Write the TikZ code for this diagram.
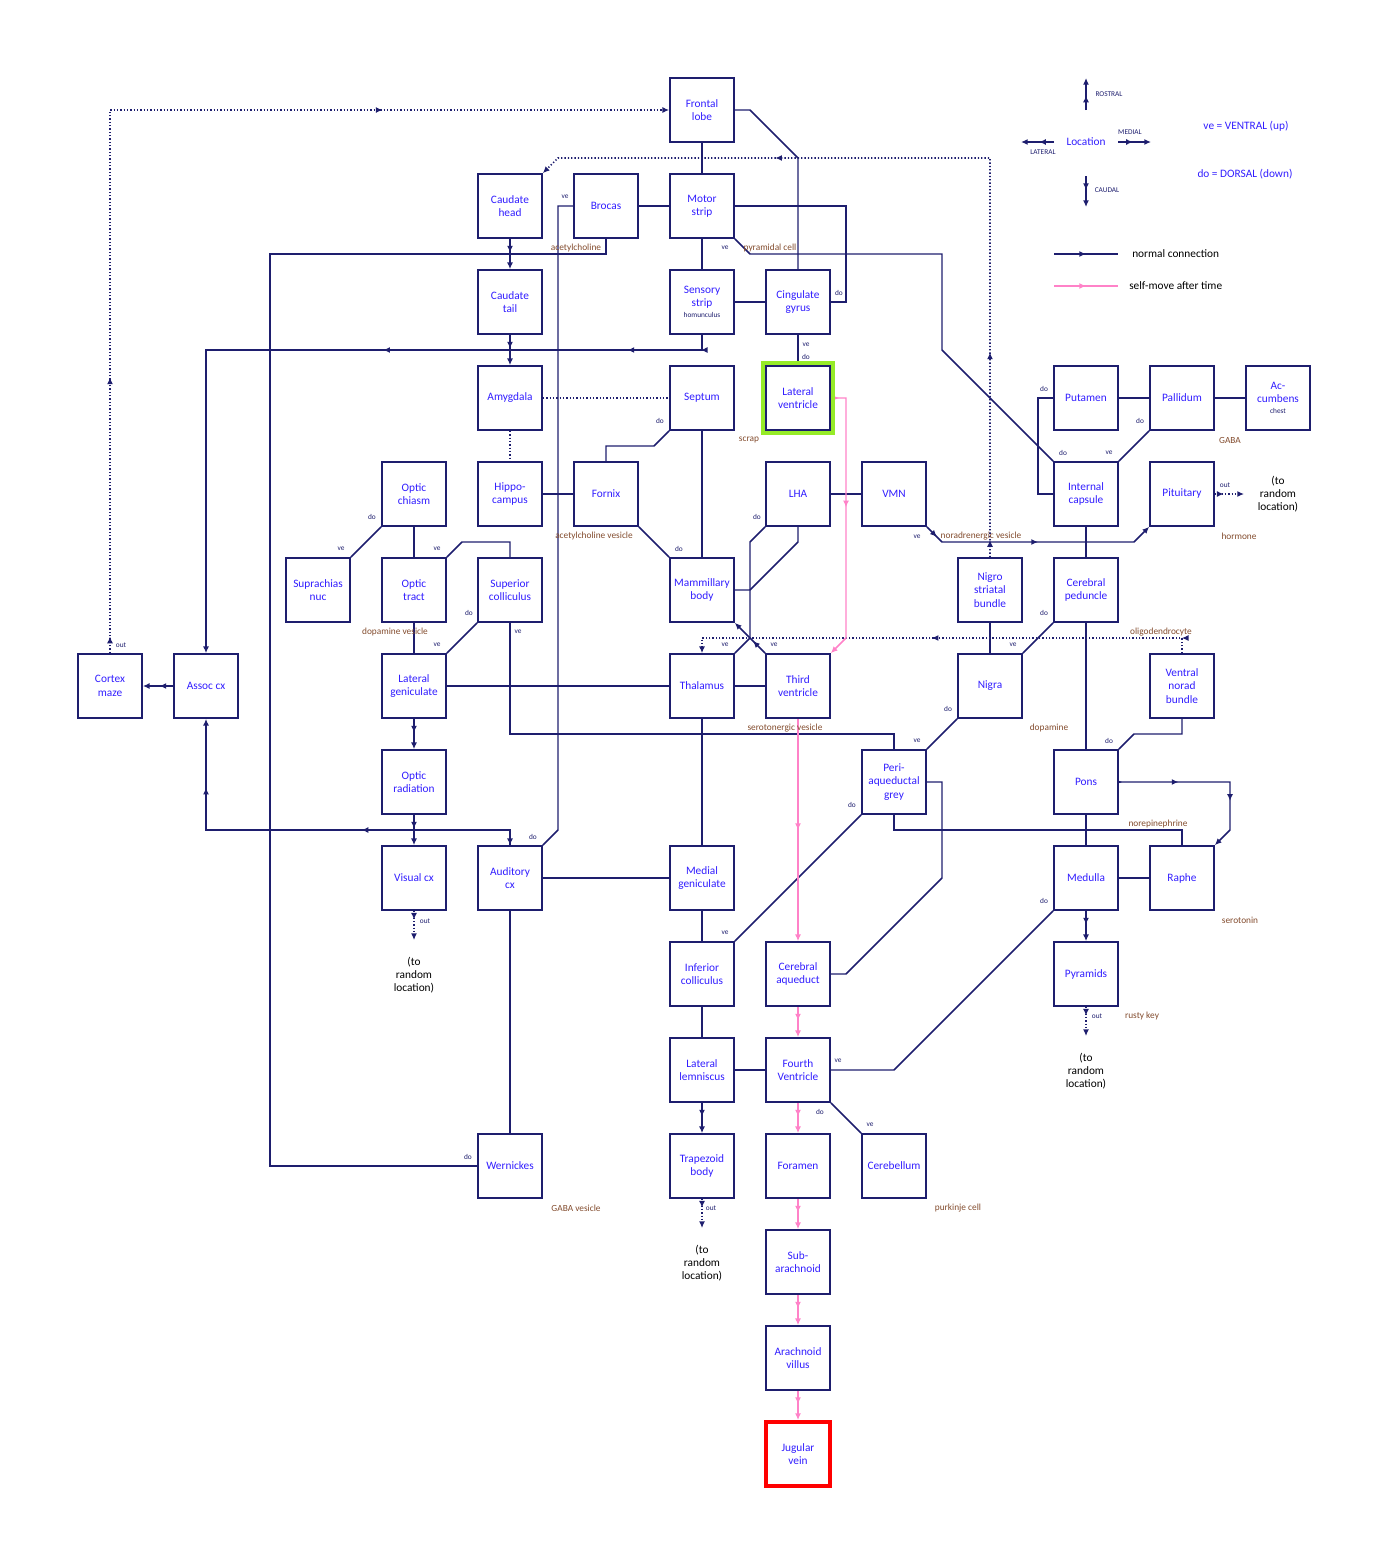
\documentclass[tikz,border=0pt]{standalone}
\usepackage{fontspec}
\setmainfont{Carlito}
\usetikzlibrary{arrows.meta,decorations.markings,backgrounds}
\definecolor{nv}{RGB}{30,30,110}
\definecolor{tb}{RGB}{50,30,255}
\definecolor{br}{RGB}{130,75,45}
\definecolor{pk}{RGB}{255,130,200}
\definecolor{gr}{RGB}{150,235,40}
\tikzset{
 box/.style={draw=nv,line width=1.3pt,fill=white,minimum width=48pt,minimum height=48pt,inner sep=1pt,align=center,text=tb,font=\fontsize{8.5}{10}\selectfont},
 ln/.style={draw=nv,line width=1.1pt},
 pl/.style={draw=pk,line width=1.1pt},
 dt/.style={draw=nv,line width=1.3pt,dash pattern=on 1pt off 1.5pt},
 mid/.style={postaction={decorate,decoration={markings,mark=at position #1 with {\arrow{Latex[length=5pt,width=4.5pt]}}}}},
 tip/.style={-{Latex[length=5pt,width=4.5pt]}},
 sm/.style={text=nv,font=\fontsize{5.5}{6}\selectfont,inner sep=0pt},
 bl/.style={text=br,font=\fontsize{7}{8}\selectfont,inner sep=0pt},
 rl/.style={text=black,align=center,font=\fontsize{8.5}{10}\selectfont,inner sep=0pt},
}
\begin{document}
\begin{tikzpicture}[x=0.75pt,y=-0.75pt]
\useasboundingbox (0,0) rectangle (1388,1564);
% nodes
\node[box] (fl) at (702,110) {Frontal\\lobe};
\node[box] (ch) at (510,206) {Caudate\\head};
\node[box] (br) at (606,206) {Brocas};
\node[box] (ms) at (702,206) {Motor\\strip};
\node[box] (ct) at (510,302) {Caudate\\tail};
\node[box] (ss) at (702,302) {Sensory\\strip\\[-2pt]{\fontsize{5.5}{6}\selectfont\color{nv}homunculus}};
\node[box] (cg) at (798,302) {Cingulate\\gyrus};
\node[box] (amy) at (510,398) {Amygdala};
\node[box] (sep) at (702,398) {Septum};
\node[box,draw=gr,line width=3pt,minimum width=52pt,minimum height=52pt] (lvo) at (798,398) {};
\node[box] (lv) at (798,398) {Lateral\\ventricle};
\node[box] (put) at (1086,398) {Putamen};
\node[box] (pal) at (1182,398) {Pallidum};
\node[box] (acc) at (1278,398) {Ac-\\cumbens\\[-2pt]{\fontsize{5.5}{6}\selectfont\color{nv}chest}};
\node[box] (oc) at (414,494) {Optic\\chiasm};
\node[box] (hip) at (510,494) {Hippo-\\campus};
\node[box] (fx) at (606,494) {Fornix};
\node[box] (lha) at (798,494) {LHA};
\node[box] (vmn) at (894,494) {VMN};
\node[box] (ic) at (1086,494) {Internal\\capsule};
\node[box] (pit) at (1182,494) {Pituitary};
\node[box] (sn) at (318,590) {Suprachias\\nuc};
\node[box] (ot) at (414,590) {Optic\\tract};
\node[box] (sc) at (510,590) {Superior\\colliculus};
\node[box] (mb) at (702,590) {Mammillary\\body};
\node[box] (nsb) at (990,590) {Nigro\\striatal\\bundle};
\node[box] (cp) at (1086,590) {Cerebral\\peduncle};
\node[box] (cm) at (110,686) {Cortex\\maze};
\node[box] (ac) at (206,686) {Assoc cx};
\node[box] (lg) at (414,686) {Lateral\\geniculate};
\node[box] (th) at (702,686) {Thalamus};
\node[box] (tv) at (798,686) {Third\\ventricle};
\node[box] (ni) at (990,686) {Nigra};
\node[box] (vnb) at (1182,686) {Ventral\\norad\\bundle};
\node[box] (or) at (414,782) {Optic\\radiation};
\node[box] (pag) at (894,782) {Peri-\\aqueductal\\grey};
\node[box] (pons) at (1086,782) {Pons};
\node[box] (vc) at (414,878) {Visual cx};
\node[box] (aud) at (510,878) {Auditory\\cx};
\node[box] (mg) at (702,878) {Medial\\geniculate};
\node[box] (med) at (1086,878) {Medulla};
\node[box] (ra) at (1182,878) {Raphe};
\node[box] (icl) at (702,974) {Inferior\\colliculus};
\node[box] (ca) at (798,974) {Cerebral\\aqueduct};
\node[box] (pyr) at (1086,974) {Pyramids};
\node[box] (ll) at (702,1070) {Lateral\\lemniscus};
\node[box] (fv) at (798,1070) {Fourth\\Ventricle};
\node[box] (wer) at (510,1166) {Wernickes};
\node[box] (trb) at (702,1166) {Trapezoid\\body};
\node[box] (fo) at (798,1166) {Foramen};
\node[box] (cb) at (894,1166) {Cerebellum};
\node[box] (sub) at (798,1262) {Sub-\\arachnoid};
\node[box] (arv) at (798,1358) {Arachnoid\\villus};
\node[box,draw=red,line width=3pt] (jv) at (798,1454) {Jugular\\vein};
% random location texts
\node[rl] (r1) at (414,975) {(to\\random\\location)};
\node[rl] (r2) at (1278,494) {(to\\random\\location)};
\node[rl] (r3) at (1086,1071) {(to\\random\\location)};
\node[rl] (r4) at (702,1263) {(to\\random\\location)};
\coordinate (e1) at (414,940);
\coordinate (e2) at (1244,494);
\coordinate (e3) at (1086,1036);
\coordinate (e4) at (702,1228);
% small labels
\foreach \x/\y/\t [count=\i] in {565/197/ve,725/248/ve,839/293/do,806/345/ve,806/357/do,660/421/do,372/517/do,341/549/ve,437/549/ve,679/549/do,757/517/do,469/613/do,518/632/ve,437/645/ve,725/645/ve,774/645/ve,917/537/ve,1044/389/do,1140/421/do,1063/453/do,1109/453/ve,1044/613/do,1013/645/ve,948/709/do,917/741/ve,852/805/do,1109/741/do,533/837/do,725/933/ve,1044/901/do,838/1061/ve,820/1112/do,870/1125/ve,468/1157/do,121/645/out,425/921/out,1225/485/out,1097/1016/out,711/1208/out}
  \node[sm] (s\i) at (\x,\y) {\t};
% brown labels
\foreach \x/\y/\t [count=\i] in {576/248/acetylcholine,770/248/pyramidal cell,749/440/scrap,594/536/acetylcholine vesicle,395/632/dopamine vesicle,785/728/serotonergic vesicle,981/536/noradrenergic vesicle,1230/440/GABA,1239/536/hormone,1161/632/oligodendrocyte,1049/728/dopamine,1158/824/norepinephrine,1240/920/serotonin,1142/1016/rusty key,576/1208/GABA vesicle,958/1208/purkinje cell}
  \node[bl] (b\i) at (\x,\y) {\t};
% legend
\node[text=tb,font=\fontsize{8.5}{10}\selectfont,inner sep=1pt] (loc) at (1086,142) {Location};
\node[sm] (lr) at (1109,94) {ROSTRAL};
\node[sm] (lc) at (1107,190) {CAUDAL};
\node[sm] (lla) at (1043,152) {LATERAL};
\node[sm] (lme) at (1130,132) {MEDIAL};
\node[text=tb,font=\fontsize{8.5}{10}\selectfont,inner sep=0pt] (vv) at (1246,126) {ve = VENTRAL (up)};
\node[text=tb,font=\fontsize{8.5}{10}\selectfont,inner sep=0pt] (dd) at (1245,174) {do = DORSAL (down)};
\node[rl,anchor=west] (nc) at (1132,254) {normal connection};
\node[rl,anchor=west] (sm2) at (1129,286) {self-move after time};
\coordinate (g1) at (1086,110); \coordinate (g2) at (1086,78);
\coordinate (g3) at (1086,176); \coordinate (g4) at (1086,207);
\coordinate (g5) at (1054,142); \coordinate (g6) at (1021,142);
\coordinate (g7) at (1118,142); \coordinate (g8) at (1151,142);
\coordinate (g9) at (1054,254); \coordinate (g10) at (1118,254);
\coordinate (g11) at (1054,286); \coordinate (g12) at (1118,286);
\begin{pgfonlayer}{background}
\draw[ln,tip,mid=0.45] (g1) -- (g2);
\draw[ln,tip,mid=0.45] (g3) -- (g4);
\draw[ln,tip,mid=0.45] (g5) -- (g6);
\draw[ln,tip,mid=0.45] (g7) -- (g8);
\draw[ln,mid=0.5] (g9) -- (g10);
\draw[pl,mid=0.5] (g11) -- (g12);
% dotted
\draw[dt,tip,mid=0.015,mid=0.25,mid=0.74] (cm.north) -- (110,110) -- (fl.west);
\draw[dt,tip,mid=0.02,mid=0.24,mid=0.72] (nsb.north) -- (990,158) -- (558,158) -- (ch.north east);
\draw[dt,tip,mid=0.03,mid=0.52] (vnb.north) -- (1182,638) -- (702,638) -- (th.north);
\draw[dt] (amy.east) -- (sep.west);
\draw[dt] (amy.south) -- (hip.north);
\draw[dt,tip,mid=0.3] (vc.south) -- (e1);
\draw[dt,tip,mid=0.3] (pit.east) -- (e2);
\draw[dt,tip,mid=0.3] (pyr.south) -- (e3);
\draw[dt,tip,mid=0.3] (trb.south) -- (e4);
% normal
\draw[ln,tip,mid=0.02,mid=0.11,mid=0.41] (ss.south) -- (702,350) -- (206,350) -- (ac.north);
\draw[ln] (wer.west) -- (270,1166) -- (270,254) -- (606,254) -- (br.south);
\draw[ln] (br.west) -- (558,206) -- (558,830) -- (aud.north east);
\draw[ln,tip,mid=0.38,mid=0.84] (aud.north) -- (510,830) -- (206,830) -- (ac.south);
\draw[ln,tip] (510,836) -- (aud.north);
\draw[ln,tip,mid=0.45] (lg.south) -- (or.north);
\draw[ln,tip,mid=0.45] (or.south) -- (vc.north);
\draw[ln,tip,mid=0.45] (ac.west) -- (cm.east);
\draw[ln] (fl.south) -- (ms.north);
\draw[ln] (fl.east) -- (750,110) -- (798,158) -- (cg.north);
\draw[ln] (ms.east) -- (846,206) -- (846,302) -- (cg.east);
\draw[ln] (ms.south east) -- (750,254) -- (942,254) -- (942,350) -- (ic.north west);
\draw[ln] (br.east) -- (ms.west);
\draw[ln] (ms.south) -- (ss.north);
\draw[ln] (ss.east) -- (cg.west);
\draw[ln] (cg.south) -- (lv.north);
\draw[ln,tip,mid=0.45] (ch.south) -- (ct.north);
\draw[ln,tip,mid=0.45] (ct.south) -- (amy.north);
\draw[ln] (hip.east) -- (fx.west);
\draw[ln] (sep.south west) -- (654,446) -- (606,446) -- (fx.north);
\draw[ln] (sep.south) -- (mb.north);
\draw[ln] (fx.south east) -- (mb.north west);
\draw[ln] (lha.south west) -- (750,542) -- (750,638) -- (th.north east);
\draw[ln] (lha.south) -- (798,542) -- (750,590) -- (mb.east);
\draw[ln] (lha.east) -- (vmn.west);
\draw[ln,tip,mid=0.4] (tv.north west) -- (mb.south east);
\draw[ln] (th.west) -- (lg.east);
\draw[ln] (th.east) -- (tv.west);
\draw[ln] (th.south) -- (mg.north);
\draw[ln] (mg.west) -- (aud.east);
\draw[ln] (mg.south) -- (icl.north);
\draw[ln] (icl.south) -- (ll.north);
\draw[ln,tip,mid=0.45] (ll.south) -- (trb.north);
\draw[ln] (ll.east) -- (fv.west);
\draw[ln] (icl.north east) -- (pag.south west);
\draw[ln] (sc.north) -- (510,542) -- (462,542) -- (ot.north east);
\draw[ln] (sc.south west) -- (lg.north east);
\draw[ln] (sc.south) -- (510,734) -- (894,734) -- (pag.north);
\draw[ln] (oc.south west) -- (sn.north east);
\draw[ln] (oc.south) -- (ot.north);
\draw[ln] (ot.south) -- (lg.north);
\draw[ln] (aud.south) -- (wer.north);
\draw[ln] (pag.east) -- (942,782) -- (942,878) -- (846,974) -- (ca.east);
\draw[ln] (pag.south) -- (894,830) -- (1182,830) -- (ra.north);
\draw[ln] (pag.north east) -- (ni.south west);
\draw[ln] (ni.north) -- (nsb.south);
\draw[ln] (ni.north east) -- (cp.south west);
\draw[ln] (cp.north) -- (ic.south);
\draw[ln] (cp.south) -- (pons.north);
\draw[ln] (ic.west) -- (1038,494) -- (1038,398) -- (put.west);
\draw[ln] (ic.north east) -- (pal.south west);
\draw[ln] (put.east) -- (pal.west);
\draw[ln] (pal.east) -- (acc.west);
\draw[ln,tip,mid=0.06,mid=0.5] (vmn.south east) -- (942,542) -- (1134,542) -- (pit.south west);
\draw[ln] (vnb.south) -- (1182,734) -- (1134,734) -- (pons.north east);
\draw[ln,tip,mid=0.02,mid=0.33,mid=0.72] (pons.east) -- (1230,782) -- (1230,830) -- (ra.north east);
\draw[ln] (pons.south) -- (med.north);
\draw[ln] (med.east) -- (ra.west);
\draw[ln,tip,mid=0.45] (med.south) -- (pyr.north);
\draw[ln] (med.south west) -- (894,1070) -- (fv.east);
\draw[ln] (fv.south east) -- (cb.north west);
% pink
\draw[pl,tip,mid=0.03,mid=0.45] (lv.east) -- (846,398) -- (846,638) -- (tv.north east);
\draw[pl,tip,mid=0.5] (tv.south) -- (ca.north);
\draw[pl,tip,mid=0.45] (ca.south) -- (fv.north);
\draw[pl,tip,mid=0.45] (fv.south) -- (fo.north);
\draw[pl,tip,mid=0.45] (fo.south) -- (sub.north);
\draw[pl,tip,mid=0.45] (sub.south) -- (arv.north);
\draw[pl,tip,mid=0.45] (arv.south) -- (jv.north);
\end{pgfonlayer}
\end{tikzpicture}
\end{document}
